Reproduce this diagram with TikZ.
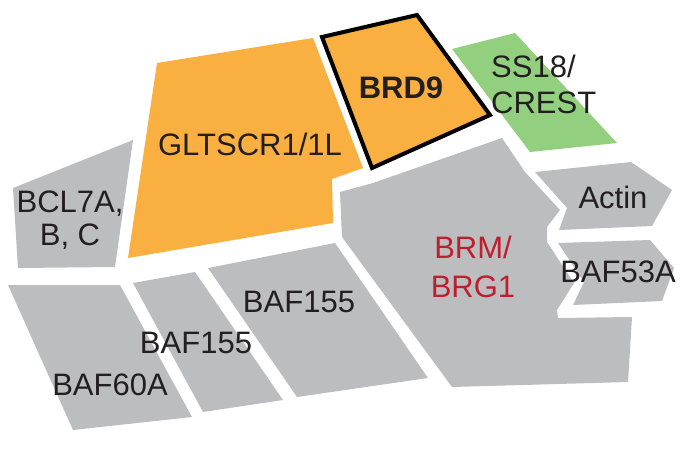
\documentclass[tikz,border=0pt]{standalone}
\usepackage{fontspec}
\setmainfont{Liberation Sans}
\definecolor{orangeF}{RGB}{249,176,64}
\definecolor{greenF}{RGB}{146,208,127}
\definecolor{grayF}{RGB}{188,189,191}
\definecolor{redT}{RGB}{190,30,45}
\definecolor{darkT}{RGB}{35,31,32}
\begin{document}
\begin{tikzpicture}[x=1pt,y=-1pt,
  graypart/.style={fill=grayF},
  orangepart/.style={fill=orangeF},
  greenpart/.style={fill=greenF},
  lbl/.style={inner sep=0pt,text=darkT,font=\fontsize{31}{36}\selectfont},
]
\useasboundingbox (0,0) rectangle (687,448);
% BCL7A
\path[graypart] (133,140) -- (13,188) -- (18,268) -- (115,267) -- cycle;
% GLTSCR1/1L
\path[orangepart] (157,63) -- (313,38) -- (363,168) -- (332,179) -- (333,223) -- (128,258) -- cycle;
% BRD9
\path[orangepart,draw=black,line width=4pt,line join=miter] (322,37) -- (417,15) -- (490,115) -- (372,168) -- cycle;
% SS18/CREST
\path[greenpart] (452,49) -- (515,33) -- (617,143) -- (530,152) -- cycle;
% BRM/BRG1
\path[graypart] (502,138) -- (525,172) -- (560,210) -- (547,227) -- (547,242) -- (574,283) -- (557,310) -- (558,318) -- (632,317) -- (628,382) -- (452,387) -- (342,237) -- (340,192) -- (373,183) -- cycle;
% Actin
\path[graypart] (535,172) -- (631,162) -- (672,190) -- (652,226) -- (559,230) -- (567,208) -- cycle;
% BAF53A
\path[graypart] (558,243) -- (650,240) -- (674,268) -- (662,301) -- (573,305) -- (584,282) -- cycle;
% BAF155 (large)
\path[graypart] (208,268) -- (335,243) -- (428,378) -- (297,397) -- cycle;
% BAF155 (small)
\path[graypart] (133,283) -- (195,272) -- (283,400) -- (203,412) -- cycle;
% BAF60A
\path[graypart] (8,285) -- (120,285) -- (192,417) -- (73,430) -- cycle;

% labels (multi-line nodes: base = baseline of last line)
\node[lbl,anchor=base] (gltscr) at (250,155) {GLTSCR1/1L};
\node[lbl,anchor=base,font=\fontsize{31}{36}\selectfont\bfseries] (brd9) at (401,98) {BRD9};
\node[lbl,anchor=base west,align=left] (ss18) at (491,113) {SS18/\\CREST};
\node[lbl,anchor=base] (actin) at (613,208) {Actin};
\node[lbl,anchor=base] (baf53a) at (618,282) {BAF53A};
\node[lbl,anchor=base,align=center,text=redT,font=\fontsize{31}{39}\selectfont] (brm) at (473,297) {BRM/\\BRG1};
\node[lbl,anchor=base,align=center,font=\fontsize{31}{33}\selectfont] (bcl7a) at (70,245) {BCL7A,\\B, C};
\node[lbl,anchor=base] (baf155a) at (299,312) {BAF155};
\node[lbl,anchor=base] (baf155b) at (196,353) {BAF155};
\node[lbl,anchor=base] (baf60a) at (110,395) {BAF60A};
\end{tikzpicture}
\end{document}
